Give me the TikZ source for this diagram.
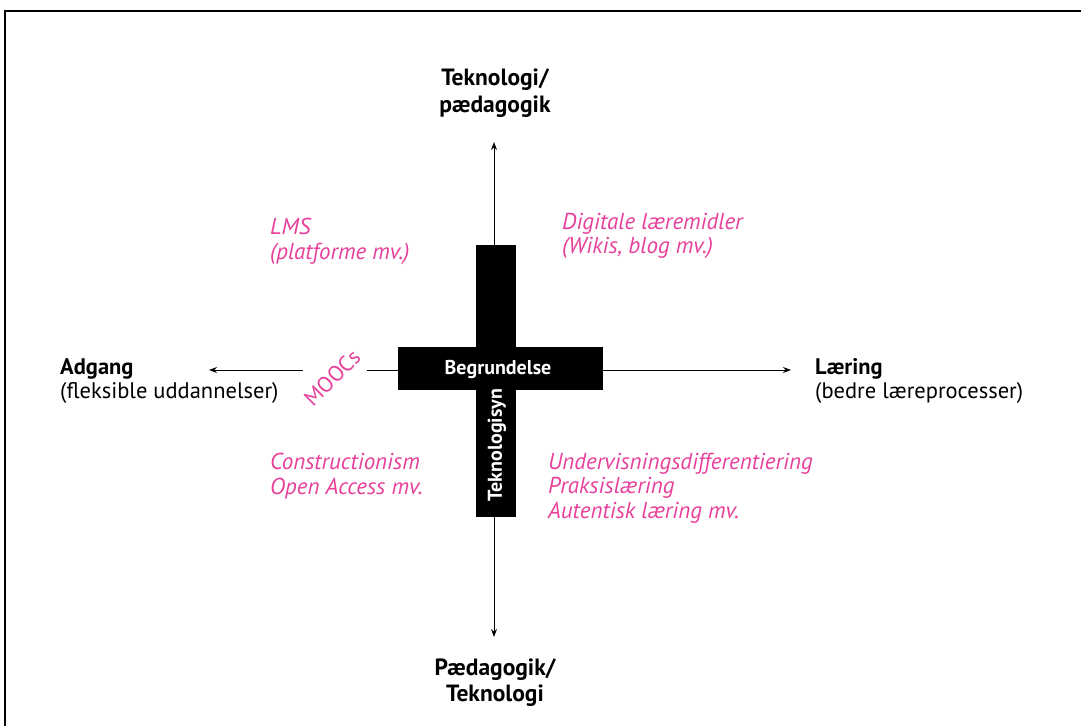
\documentclass[tikz,border=0pt]{standalone}
\usepackage{fontspec}
\setmainfont{PT Sans}
\usetikzlibrary{arrows.meta}
\definecolor{pinkt}{HTML}{E8409A}
\tikzset{
  lbl/.style={font=\fontsize{22.5}{24.5}\selectfont, inner sep=0pt, align=left},
  pinklbl/.style={lbl, text=pinkt, font=\fontsize{23}{24.5}\selectfont\itshape},
  axis/.style={line width=1pt, -{Stealth[length=8pt,width=6pt]}},
  crossbar/.style={fill=black, draw=none},
  whitelbl/.style={text=white, font=\fontsize{20}{22}\selectfont\bfseries, inner sep=0pt}
}
\begin{document}
\begin{tikzpicture}[x=1pt,y=-1pt]
\useasboundingbox (0,0) rectangle (1081,726);
% frame
\draw[line width=2pt] (5,726) -- (5,11) -- (1081,11);
% cross
\fill[crossbar] (476,245) rectangle (516,517);
\fill[crossbar] (398,347) rectangle (603,390);
\coordinate (ctop) at (494,245);
\coordinate (cbot) at (494,517);
\coordinate (cleft) at (398,370);
\coordinate (cright) at (603,370);
\coordinate (atop) at (494,142);
\coordinate (abot) at (494,637);
\coordinate (aright) at (791,370);
\coordinate (aleft) at (209,370);
\coordinate (mleft) at (303,370);
\coordinate (mright) at (367,370);
\draw[axis] (ctop) -- (atop);
\draw[axis] (cbot) -- (abot);
\draw[axis] (cright) -- (aright);
\draw[line width=1pt] (cleft) -- (mright);
\draw[axis] (mleft) -- (aleft);
\node[whitelbl] (beg) at (498,370) {Begrundelse};
\node[whitelbl, rotate=90] (tsyn) at (497,445) {Teknologisyn};
% axis labels
\node[lbl, align=center, font=\fontsize{23.5}{27}\selectfont\bfseries] (top) at (495,93) {Teknologi/\\pædagogik};
\node[lbl, align=center, font=\fontsize{23.5}{26}\selectfont\bfseries] (bot) at (495,683) {Pædagogik/\\Teknologi};
\node[lbl, anchor=west] (adg) at (60,381) {\textbf{Adgang}\\(fleksible uddannelser)};
\node[lbl, anchor=west] (laer) at (815,381) {\textbf{Læring}\\(bedre læreprocesser)};
% pink labels
\node[pinklbl, anchor=west, font=\fontsize{23}{25}\selectfont\itshape] (lms) at (270,241) {LMS\\(platforme mv.)};
\node[pinklbl, anchor=west] (dig) at (562,236) {Digitale læremidler\\(Wikis, blog mv.)};
\node[pinklbl, anchor=west, font=\fontsize{23}{25}\selectfont\itshape] (con) at (270,476) {Constructionism\\Open Access mv.};
\node[pinklbl, anchor=west] (und) at (548,488) {Undervisningsdifferentiering\\Praksislæring\\Autentisk læring mv.};
\node[text=pinkt, inner sep=0pt, font=\fontsize{22}{24}\selectfont, rotate=45] (mooc) at (332,378) {MOOCs};
\end{tikzpicture}
\end{document}
